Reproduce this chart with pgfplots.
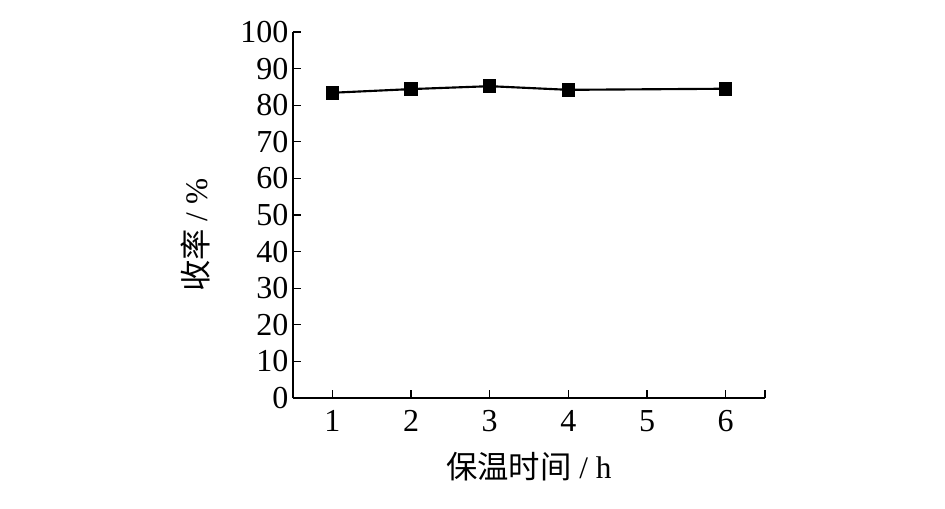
\documentclass[border=0pt]{standalone}
\usepackage{pgfplots}
\pgfplotsset{compat=1.18}
\usepackage{fontspec}
\setmainfont{Liberation Serif}
\newfontfamily\cjk{Noto Sans CJK SC}
\begin{document}
\begin{tikzpicture}[x=1pt,y=1pt]
\useasboundingbox (-219.75,-82.5) rectangle (489,298.5);
\begin{axis}[
  at={(0,0)}, anchor=origin,
  scale only axis,
  width=354pt, height=274.5pt,
  xmin=0.5, xmax=6.5, ymin=0, ymax=100,
  axis x line*=bottom, axis y line*=left,
  axis line style={line width=1pt, -},
  xtick={1,2,3,4,5,6}, extra x ticks={6.5}, extra x tick labels={},
  ytick={0,10,...,100},
  tick align=inside,
  major tick length=6pt,
  tick style={line width=1pt, black},
  ticklabel style={font=\fontsize{24}{28}\selectfont},
  xticklabel style={yshift=-6pt},
  /pgf/number format/assume math mode=true,
  xlabel={{\cjk 保温时间} / h},
  ylabel={{\cjk 收率} / \%},
  label style={font=\fontsize{23.5}{28}\selectfont},
  xlabel style={at={(axis description cs:0.5,0)}, anchor=north, yshift=-37pt},
  ylabel style={at={(axis description cs:-0.165,0.445)}, anchor=south},
  clip=false,
]
\addplot[black, line width=1.6pt, mark=square*, mark size=4.3pt] coordinates {
  (1,83.4) (2,84.4) (3,85.2) (4,84.2) (6,84.5)
};
\end{axis}
\end{tikzpicture}
\end{document}
